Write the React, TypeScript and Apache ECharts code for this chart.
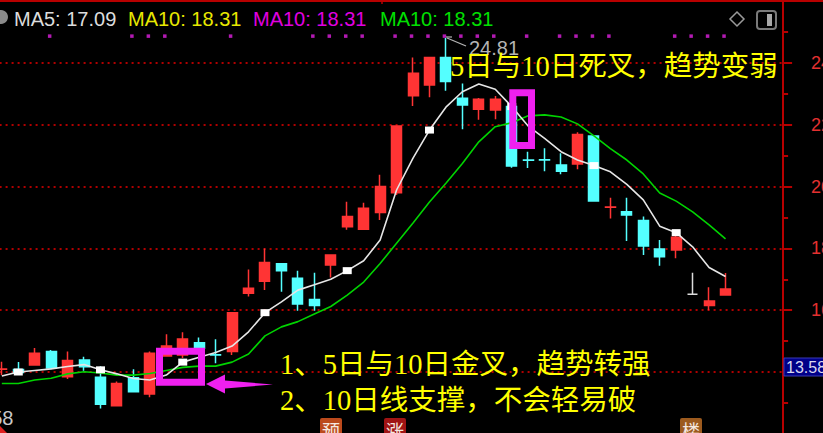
import React, { useEffect, useRef } from "react";
import * as echarts from "echarts";

// ---- data ----
const categories: string[] = Array.from({ length: 48 }, (_, i) => `D${i + 1}`);

const openP = [14.09, 14.08, 14.23, 14.66, 13.85, 14.39, 13.83, 12.91, 13.81, 13.29, 14.52, 14.55, 14.95, 14.56, 14.66, 16.55, 16.94, 17.5, 17.03, 16.35, 17.46, 18.7, 18.62, 19.16, 19.8, 22.94, 23.29, 24.18, 22.86, 22.5, 22.48, 22.59, 20.86, 20.87, 20.7, 20.73, 21.64, 19.33, 19.19, 18.9, 17.98, 17.95, 16.52, 16.15, 16.49];
const closeP = [14.1, 13.98, 14.61, 14.13, 14.37, 14.17, 12.96, 13.63, 13.36, 14.61, 14.84, 15.07, 14.77, 14.55, 15.92, 16.71, 17.54, 17.28, 16.2, 16.15, 17.79, 19.03, 19.3, 20.0, 21.96, 23.67, 24.18, 23.4, 22.64, 22.83, 22.83, 20.67, 20.85, 20.86, 20.5, 21.69, 19.53, 19.34, 19.08, 18.08, 17.73, 18.36, 16.52, 16.3, 16.69];
const lowP = [13.9, 13.95, 14.23, 14.1, 13.77, 14.04, 12.82, 12.9, 13.36, 13.18, 14.5, 14.45, 14.7, 14.28, 14.55, 16.44, 16.65, 16.6, 15.98, 15.98, 17.06, 18.6, 18.6, 18.92, 19.73, 22.61, 22.89, 23.1, 21.86, 22.16, 22.18, 20.61, 20.6, 20.5, 20.4, 20.56, 19.52, 18.97, 18.24, 17.79, 17.44, 17.68, 16.52, 16.0, 16.49];
const highP = [14.33, 14.32, 14.78, 14.71, 14.66, 14.49, 14.19, 13.69, 14.09, 14.66, 15.22, 15.29, 15.12, 15.06, 15.93, 17.32, 18.0, 17.5, 17.28, 17.21, 17.8, 19.51, 19.48, 20.38, 21.97, 24.18, 24.19, 24.81, 23.34, 22.87, 22.93, 22.7, 21.13, 21.24, 21.08, 21.76, 21.65, 19.64, 19.64, 19.03, 18.27, 18.43, 17.21, 16.74, 17.2];

const ma5 = [13.87, 14.0, 14.05, 14.1, 14.18, 14.24, 14.07, 13.94, 13.79, 13.74, 13.9, 14.32, 14.48, 14.63, 14.84, 15.3, 15.92, 16.27, 16.65, 16.82, 17.0, 17.28, 17.6, 18.27, 19.89, 20.92, 21.83, 22.57, 23.07, 23.32, 23.15, 22.59, 21.96, 21.56, 21.13, 20.86, 20.68, 20.48, 20.07, 19.57, 18.72, 18.51, 18.05, 17.38, 17.09];
const ma10 = [13.63, 13.63, 13.74, 13.8, 13.94, 14.01, 13.97, 13.9, 13.9, 13.95, 14.05, 14.15, 14.19, 14.19, 14.32, 14.58, 15.17, 15.46, 15.63, 15.88, 16.12, 16.49, 16.91, 17.51, 18.17, 18.82, 19.5, 20.11, 20.75, 21.45, 21.94, 22.07, 22.29, 22.32, 22.25, 22.03, 21.64, 21.23, 20.86, 20.41, 19.79, 19.53, 19.18, 18.76, 18.31];

const ma5MarkerIdx = [1, 6, 11, 16, 21, 26, 31, 36, 41];
const flatCandleIdx = [42];
const signalIdx = [3, 8, 9, 10, 14, 19, 20, 21, 22, 24, 25, 26, 27, 28, 29, 30, 32, 34, 35, 36, 37, 41, 42, 43, 44];
const signalLevel = 24.87;

const yMin = 12;
const yMax = 26;
const yInterval = 2;
const yLabelValues = [16, 18, 20, 22, 24];

const legendItems = [
  { text: "MA5: 17.09", color: "#dcdcdc" },
  { text: "MA10: 18.31", color: "#e8e800" },
  { text: "MA10: 18.31", color: "#e000e0" },
  { text: "MA10: 18.31", color: "#00e000" },
];

const RED = "#ff3434";
const CYAN = "#54ffff";
const FLAT = "#dcdcdc";
const MAG = "#f020f0";
const YEL = "#ffff00";
const AXIS_RED = "#b80000";

const CJK = "'Liberation Serif', 'Noto Sans CJK SC', serif";
const SANS = "'Liberation Sans', Arial, sans-serif";

function buildOption() {
  const candleData = openP.map((o, i) => {
    const v = [o, closeP[i], lowP[i], highP[i]];
    if (flatCandleIdx.includes(i)) {
      return {
        value: v,
        itemStyle: { color: FLAT, color0: FLAT, borderColor: FLAT, borderColor0: FLAT, borderColorDoji: FLAT },
      };
    }
    return v;
  });

  const ma5Data = ma5.map((v, i) =>
    ma5MarkerIdx.includes(i)
      ? { value: v, symbol: "rect", symbolSize: [9, 7], itemStyle: { color: "#ffffff" } }
      : { value: v, symbol: "none" }
  );

  const signalData = signalIdx.map((i) => [i, signalLevel]);

  const legendX = [14, 128, 253, 380];

  const graphics: any[] = [
    // top border
    { type: "line", shape: { x1: 0, y1: 1, x2: 823, y2: 1 }, style: { stroke: AXIS_RED, lineWidth: 2 }, z: 50 },
    { type: "line", shape: { x1: 382, y1: 0, x2: 382, y2: 4 }, style: { stroke: AXIS_RED, lineWidth: 1.5 }, z: 50 },
    // left round icon
    { type: "circle", shape: { cx: 1, cy: 17, r: 7 }, style: { fill: "#8a8a8a" }, z: 50 },
    // right icons
    { type: "polygon", shape: { points: [[737, 12], [744, 19], [737, 26], [730, 19]] }, style: { fill: "none", stroke: "#9a9a9a", lineWidth: 1.5 }, z: 50 },
    { type: "rect", shape: { x: 757, y: 11, width: 19, height: 18, r: 3 }, style: { fill: "none", stroke: "#7a7a7a", lineWidth: 2 }, z: 50 },
    { type: "rect", shape: { x: 767, y: 14, width: 5, height: 12 }, style: { fill: "#a8a8a8" }, z: 50 },
    // high marker
    { type: "line", shape: { x1: 446, y1: 37, x2: 452, y2: 37 }, style: { stroke: "#b4b4b4", lineWidth: 1.2 }, z: 50 },
    { type: "line", shape: { x1: 447, y1: 38, x2: 466, y2: 46 }, style: { stroke: "#b4b4b4", lineWidth: 1.2 }, z: 50 },
    { type: "text", x: 469, y: 48, style: { text: "24.81", fill: "#b4b4b4", font: `20px ${SANS}`, verticalAlign: "middle" }, z: 50 },
    // magenta boxes
    { type: "rect", shape: { x: 159.5, y: 351.2, width: 42, height: 31 }, style: { fill: "none", stroke: MAG, lineWidth: 7 }, z: 60 },
    { type: "rect", shape: { x: 512.8, y: 92.8, width: 18.7, height: 52.7 }, style: { fill: "none", stroke: MAG, lineWidth: 7 }, z: 60 },
    // arrow
    { type: "polygon", shape: { points: [[206, 384], [225, 374.5], [225, 380.5], [273, 384.5], [225, 388.5], [225, 393.5]] }, style: { fill: MAG }, z: 60 },
    // annotations
    { type: "text", x: 450, y: 66, style: { text: "5日与10日死叉，趋势变弱", fill: YEL, font: `28.5px ${CJK}`, verticalAlign: "middle" }, z: 70 },
    { type: "text", x: 280, y: 364, style: { text: "1、5日与10日金叉，趋势转强", fill: YEL, font: `28.5px ${CJK}`, verticalAlign: "middle" }, z: 70 },
    { type: "text", x: 280, y: 400, style: { text: "2、10日线支撑，不会轻易破", fill: YEL, font: `28.5px ${CJK}`, verticalAlign: "middle" }, z: 70 },
    // price box on axis
    { type: "rect", shape: { x: 784, y: 358, width: 45, height: 18 }, style: { fill: "#000088", stroke: "#3a3ab4", lineWidth: 1 }, z: 70 },
    { type: "text", x: 786, y: 367.5, style: { text: "13.58", fill: "#d8d8f0", font: `16px ${SANS}`, verticalAlign: "middle" }, z: 71 },
    // bottom-left low label & icon
    { type: "text", x: 13.5, y: 418, style: { text: "12.58", fill: "#c8c8c8", font: `20px ${SANS}`, align: "right", verticalAlign: "middle" }, z: 50 },
    { type: "polygon", shape: { points: [[0, 426], [7, 433], [0, 433]] }, style: { fill: "#e02020" }, z: 50 },
    // bottom badges
    { type: "rect", shape: { x: 320, y: 418, width: 22, height: 22, r: 2 }, style: { fill: "#bc4a1c" }, z: 50 },
    { type: "text", x: 331, y: 430, style: { text: "预", fill: "#f4e8e0", font: `18px 'Noto Sans CJK SC'`, align: "center", verticalAlign: "middle" }, z: 51 },
    { type: "rect", shape: { x: 384, y: 418, width: 22, height: 22, r: 2 }, style: { fill: "#a01414" }, z: 50 },
    { type: "text", x: 395, y: 430, style: { text: "涨", fill: "#f4e8e0", font: `18px 'Noto Sans CJK SC'`, align: "center", verticalAlign: "middle" }, z: 51 },
    { type: "rect", shape: { x: 680, y: 418, width: 22, height: 22, r: 2 }, style: { fill: "#9c5a1e" }, z: 50 },
    { type: "text", x: 691, y: 430, style: { text: "楼", fill: "#f4e8e0", font: `18px 'Noto Sans CJK SC'`, align: "center", verticalAlign: "middle" }, z: 51 },
  ];

  legendItems.forEach((it, k) => {
    graphics.push({
      type: "text",
      x: legendX[k],
      y: 19,
      style: { text: it.text, fill: it.color, font: `20px ${SANS}`, verticalAlign: "middle" },
      z: 50,
    });
  });

  return {
    animation: false,
    backgroundColor: "#000000",
    grid: { left: -6.4, top: 1.2, width: 789.5, height: 432.6, containLabel: false, outerBoundsMode: "none" },
    xAxis: {
      type: "category",
      data: categories,
      boundaryGap: true,
      axisLine: { show: false },
      axisTick: { show: false },
      axisLabel: { show: false },
      splitLine: { show: false },
    },
    yAxis: {
      type: "value",
      position: "right",
      min: yMin,
      max: yMax,
      interval: yInterval,
      axisLine: { show: true, lineStyle: { color: AXIS_RED, width: 2 } },
      axisTick: { show: true, inside: false, length: 9, lineStyle: { color: AXIS_RED, width: 2 } },
      minorTick: { show: true, splitNumber: 2, length: 5, lineStyle: { color: AXIS_RED, width: 2 } },
      axisLabel: {
        show: true,
        margin: 28,
        color: "#e43030",
        fontSize: 18,
        fontFamily: SANS,
        align: "left",
        formatter: (v: number) => (yLabelValues.includes(v) ? v.toFixed(2) : ""),
      },
      splitLine: { show: true, lineStyle: { color: "#b00000", type: [2, 4], width: 2 } },
    },
    series: [
      {
        type: "candlestick",
        data: candleData,
        barWidth: 10.5,
        z: 2,
        itemStyle: {
          color: RED,
          color0: CYAN,
          borderColor: RED,
          borderColor0: CYAN,
          borderWidth: 1.5,
        },
      },
      {
        type: "line",
        name: "MA10",
        data: ma10,
        symbol: "none",
        z: 3,
        lineStyle: { color: "#00d400", width: 1.6 },
      },
      {
        type: "line",
        name: "MA5",
        data: ma5Data,
        showSymbol: true,
        showAllSymbol: true,
        z: 4,
        lineStyle: { color: "#e6e6e6", width: 1.6 },
        itemStyle: { color: "#ffffff" },
      },
      {
        type: "scatter",
        name: "signal",
        data: signalData,
        symbol: "rect",
        symbolSize: 3.5,
        symbolOffset: [-1.5, 0],
        z: 5,
        itemStyle: { color: "#e020e0" },
      },
    ],
    graphic: graphics,
  };
}

export default function App() {
  const ref = useRef<HTMLDivElement>(null);
  useEffect(() => {
    if (!ref.current) return;
    const chart = echarts.init(ref.current, null, { renderer: "svg" });
    chart.setOption(buildOption() as any);
    return () => chart.dispose();
  }, []);
  return (
    <div
      ref={ref}
      style={{ position: "fixed", left: 0, top: 0, width: 823, height: 433, background: "#000" }}
    />
  );
}
